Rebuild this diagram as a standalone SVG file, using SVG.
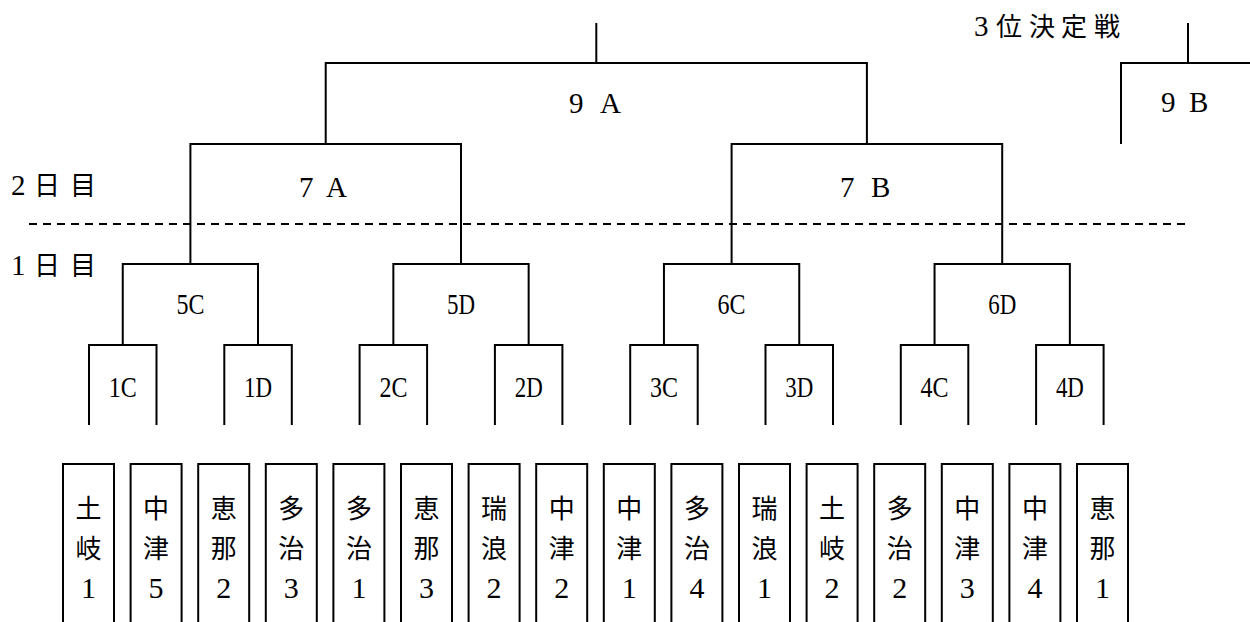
<svg xmlns="http://www.w3.org/2000/svg" width="1250" height="622" viewBox="0 0 1250 622">
<style>
.ln{fill:none;stroke:#000;stroke-width:2}
.dash{fill:none;stroke:#000;stroke-width:2;stroke-dasharray:8 6}
.lat{font-family:"Liberation Serif","Noto Sans CJK JP",serif;font-size:29px;fill:#000}
.cjk{font-family:"Noto Sans CJK JP",sans-serif;font-size:26px;fill:#000}
.num{font-family:"Liberation Serif",serif;font-size:29px}
.sm{font-family:"Liberation Serif",serif;font-size:30px;fill:#000}
.tm{font-family:"Noto Sans CJK JP",sans-serif;font-size:26px;fill:#000;text-anchor:middle}
.td{font-family:"Liberation Serif",serif;font-size:30px;fill:#000;text-anchor:middle}
</style>
<rect width="1250" height="622" fill="#fff"/>

<g id="day-labels">
<text class="cjk" x="11 25 34 50 70" y="195"><tspan class="num">2</tspan> 日 目</text>
<text class="cjk" x="11 25 34 50 70" y="275"><tspan class="num">1</tspan> 日 目</text>
<text class="cjk" x="974 996 1029 1061 1094" y="36"><tspan class="num">3</tspan>位決定戦</text>
<line class="dash" x1="29" y1="224" x2="1189" y2="224"/>
</g>

<g id="connectors">
<line class="ln" x1="596.3" y1="23" x2="596.3" y2="63"/>
<line class="ln" x1="1188" y1="23" x2="1188" y2="63"/>
</g>

<g id="m9A">
<path class="ln" d="M325.7 144V63H866.9V144"/>
<text class="lat" x="569 584 600" y="113">9 A</text>
</g>
<g id="m9B">
<path class="ln" d="M1121 144V63H1252"/>
<text class="lat" x="1161 1177 1189" y="112">9 B</text>
</g>
<g id="m7A">
<path class="ln" d="M190.4 264V144H461V264"/>
<text class="lat" x="299 316 326" y="197">7 A</text>
</g>
<g id="m7B">
<path class="ln" d="M731.6 264V144H1002.2V264"/>
<text class="lat" x="840 856 871" y="197">7 B</text>
</g>

<g id="m5C"><path class="ln" d="M122.75 345V264H258V345"/><text class="sm" x="176.5" y="314" textLength="28" lengthAdjust="spacingAndGlyphs">5C</text></g>
<g id="m5D"><path class="ln" d="M393.35 345V264H528.65V345"/><text class="sm" x="447" y="314" textLength="28" lengthAdjust="spacingAndGlyphs">5D</text></g>
<g id="m6C"><path class="ln" d="M663.95 345V264H799.25V345"/><text class="sm" x="717.6" y="314" textLength="28" lengthAdjust="spacingAndGlyphs">6C</text></g>
<g id="m6D"><path class="ln" d="M934.55 345V264H1069.85V345"/><text class="sm" x="988.2" y="314" textLength="28" lengthAdjust="spacingAndGlyphs">6D</text></g>

<g id="m1C"><path class="ln" d="M89 425V345H156.5V425"/><text class="sm" x="108.8" y="397" textLength="28" lengthAdjust="spacingAndGlyphs">1C</text></g>
<g id="m1D"><path class="ln" d="M224.3 425V345H291.8V425"/><text class="sm" x="244" y="397" textLength="28" lengthAdjust="spacingAndGlyphs">1D</text></g>
<g id="m2C"><path class="ln" d="M359.6 425V345H427.1V425"/><text class="sm" x="379.4" y="397" textLength="28" lengthAdjust="spacingAndGlyphs">2C</text></g>
<g id="m2D"><path class="ln" d="M494.9 425V345H562.4V425"/><text class="sm" x="514.7" y="397" textLength="28" lengthAdjust="spacingAndGlyphs">2D</text></g>
<g id="m3C"><path class="ln" d="M630.2 425V345H697.7V425"/><text class="sm" x="650" y="397" textLength="28" lengthAdjust="spacingAndGlyphs">3C</text></g>
<g id="m3D"><path class="ln" d="M765.5 425V345H833V425"/><text class="sm" x="785.3" y="397" textLength="28" lengthAdjust="spacingAndGlyphs">3D</text></g>
<g id="m4C"><path class="ln" d="M900.8 425V345H968.3V425"/><text class="sm" x="920.6" y="397" textLength="28" lengthAdjust="spacingAndGlyphs">4C</text></g>
<g id="m4D"><path class="ln" d="M1036.1 425V345H1103.6V425"/><text class="sm" x="1055.9" y="397" textLength="28" lengthAdjust="spacingAndGlyphs">4D</text></g>

<g id="t01"><path class="ln" d="M63 630V464H114V630"/><text class="tm" x="88.5" y="518">土</text><text class="tm" x="88.5" y="558">岐</text><text class="td" x="88.5" y="598">1</text></g>
<g id="t02"><path class="ln" d="M130.6 630V464H181.6V630"/><text class="tm" x="156.1" y="518">中</text><text class="tm" x="156.1" y="558">津</text><text class="td" x="156.1" y="598">5</text></g>
<g id="t03"><path class="ln" d="M198.2 630V464H249.2V630"/><text class="tm" x="223.7" y="518">恵</text><text class="tm" x="223.7" y="558">那</text><text class="td" x="223.7" y="598">2</text></g>
<g id="t04"><path class="ln" d="M265.8 630V464H316.8V630"/><text class="tm" x="291.3" y="518">多</text><text class="tm" x="291.3" y="558">治</text><text class="td" x="291.3" y="598">3</text></g>
<g id="t05"><path class="ln" d="M333.4 630V464H384.4V630"/><text class="tm" x="358.9" y="518">多</text><text class="tm" x="358.9" y="558">治</text><text class="td" x="358.9" y="598">1</text></g>
<g id="t06"><path class="ln" d="M401 630V464H452V630"/><text class="tm" x="426.5" y="518">恵</text><text class="tm" x="426.5" y="558">那</text><text class="td" x="426.5" y="598">3</text></g>
<g id="t07"><path class="ln" d="M468.6 630V464H519.6V630"/><text class="tm" x="494.1" y="518">瑞</text><text class="tm" x="494.1" y="558">浪</text><text class="td" x="494.1" y="598">2</text></g>
<g id="t08"><path class="ln" d="M536.2 630V464H587.2V630"/><text class="tm" x="561.7" y="518">中</text><text class="tm" x="561.7" y="558">津</text><text class="td" x="561.7" y="598">2</text></g>
<g id="t09"><path class="ln" d="M603.8 630V464H654.8V630"/><text class="tm" x="629.3" y="518">中</text><text class="tm" x="629.3" y="558">津</text><text class="td" x="629.3" y="598">1</text></g>
<g id="t10"><path class="ln" d="M671.4 630V464H722.4V630"/><text class="tm" x="696.9" y="518">多</text><text class="tm" x="696.9" y="558">治</text><text class="td" x="696.9" y="598">4</text></g>
<g id="t11"><path class="ln" d="M739 630V464H790V630"/><text class="tm" x="764.5" y="518">瑞</text><text class="tm" x="764.5" y="558">浪</text><text class="td" x="764.5" y="598">1</text></g>
<g id="t12"><path class="ln" d="M806.6 630V464H857.6V630"/><text class="tm" x="832.1" y="518">土</text><text class="tm" x="832.1" y="558">岐</text><text class="td" x="832.1" y="598">2</text></g>
<g id="t13"><path class="ln" d="M874.2 630V464H925.2V630"/><text class="tm" x="899.7" y="518">多</text><text class="tm" x="899.7" y="558">治</text><text class="td" x="899.7" y="598">2</text></g>
<g id="t14"><path class="ln" d="M941.8 630V464H992.8V630"/><text class="tm" x="967.3" y="518">中</text><text class="tm" x="967.3" y="558">津</text><text class="td" x="967.3" y="598">3</text></g>
<g id="t15"><path class="ln" d="M1009.4 630V464H1060.4V630"/><text class="tm" x="1034.9" y="518">中</text><text class="tm" x="1034.9" y="558">津</text><text class="td" x="1034.9" y="598">4</text></g>
<g id="t16"><path class="ln" d="M1077 630V464H1128V630"/><text class="tm" x="1102.5" y="518">恵</text><text class="tm" x="1102.5" y="558">那</text><text class="td" x="1102.5" y="598">1</text></g>
</svg>
